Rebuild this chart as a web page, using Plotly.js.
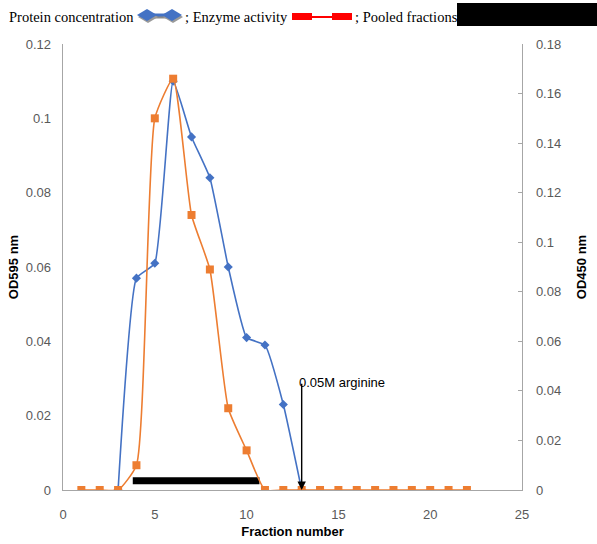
<!DOCTYPE html>
<html>
<head>
<meta charset="utf-8">
<script src="https://cdn.plot.ly/plotly-3.0.1.min.js"></script>
<style>html,body{margin:0;padding:0;background:#fff;}#chart{width:597px;height:544px;}</style>
</head>
<body>
<div id="chart"></div>
<script>
// Data
const proteinFractions = [3, 4, 5, 6, 7, 8, 9, 10, 11, 12, 13];
const proteinOD595 = [0, 0.057, 0.061, 0.110, 0.095, 0.084, 0.060, 0.041, 0.039, 0.023, 0];
const enzymeFractions = [1,2,3,4,5,6,7,8,9,10,11,12,13,14,15,16,17,18,19,20,21,22];
const enzymeOD450 = [0,0,0,0.010,0.150,0.166,0.111,0.089,0.033,0.016,0,0,0,0,0,0,0,0,0,0,0,0];
const pooledFractions = [3.8, 10.7];
const pooledLevel = [0.0025, 0.0025];
const arrowFraction = 13;
const arrowTop = 0.029;
const arrowLabel = "0.05M arginine";
const xTitle = "Fraction number";
const y1Title = "OD595 nm";
const y2Title = "OD450 nm";

const W = 597, H = 544;
const M = {l: 63, r: 75, t: 44, b: 54};
const pw = W - M.l - M.r, ph = H - M.t - M.b;
const px = x => (x - M.l) / pw;
const py = y => (H - M.b - y) / ph;

const blue = '#4472C4', orange = '#ED7D31';

const traces = [
  {x: pooledFractions, y: pooledLevel, mode: 'lines', line: {color: '#000', width: 7}, yaxis: 'y', hoverinfo: 'skip', showlegend: false},
  {x: proteinFractions, y: proteinOD595, mode: 'lines+markers', line: {color: blue, width: 1.6, shape: 'spline', smoothing: 0.4},
   marker: {symbol: 'diamond', size: 7, color: blue}, yaxis: 'y', showlegend: false},
  {x: enzymeFractions, y: enzymeOD450, mode: 'lines+markers', line: {color: orange, width: 1.6, shape: 'spline', smoothing: 0.5},
   marker: {symbol: 'square', size: 8, color: orange}, yaxis: 'y2', showlegend: false}
];

const tickFont = {family: 'Liberation Sans, Arial, sans-serif', size: 13, color: '#595959'};
const titleFont = {family: 'Liberation Sans, Arial, sans-serif', size: 13, color: '#000', weight: 'bold'};
const legFont = {family: 'Liberation Serif, Times New Roman, serif', size: 14.5, color: '#000'};

function diamond(cx, cy, w, h) {
  return `M ${px(cx - w/2)} ${py(cy)} L ${px(cx)} ${py(cy - h/2)} L ${px(cx + w/2)} ${py(cy)} L ${px(cx)} ${py(cy + h/2)} Z`;
}

const shapes = [
  // legend: protein (blue diamond line)
  {type: 'line', xref: 'paper', yref: 'paper', x0: px(148), x1: px(173), y0: py(17), y1: py(17), line: {color: '#8a8a8a', width: 3}},
  {type: 'line', xref: 'paper', yref: 'paper', x0: px(147), x1: px(172), y0: py(15), y1: py(15), line: {color: blue, width: 3}},
  {type: 'path', xref: 'paper', yref: 'paper', path: diamond(148, 17, 20, 12), fillcolor: '#9a9a9a', line: {width: 0}},
  {type: 'path', xref: 'paper', yref: 'paper', path: diamond(147, 15, 20, 12), fillcolor: blue, line: {width: 0}},
  {type: 'path', xref: 'paper', yref: 'paper', path: diamond(173, 17, 20, 12), fillcolor: '#9a9a9a', line: {width: 0}},
  {type: 'path', xref: 'paper', yref: 'paper', path: diamond(172, 15, 20, 12), fillcolor: blue, line: {width: 0}},
  // legend: enzyme (red square line)
  {type: 'line', xref: 'paper', yref: 'paper', x0: px(302), x1: px(342), y0: py(17), y1: py(17), line: {color: '#FF0000', width: 2}},
  {type: 'rect', xref: 'paper', yref: 'paper', x0: px(292), x1: px(312), y0: py(20), y1: py(13), fillcolor: '#FF0000', line: {width: 0}},
  {type: 'rect', xref: 'paper', yref: 'paper', x0: px(332), x1: px(352), y0: py(20), y1: py(13), fillcolor: '#FF0000', line: {width: 0}},
  // legend: pooled (black bar)
  {type: 'rect', xref: 'paper', yref: 'paper', x0: px(457), x1: px(597), y0: py(26), y1: py(3), fillcolor: '#000', line: {width: 0}}
];

const annotations = [
  {xref: 'paper', yref: 'paper', x: px(7), y: py(17), xanchor: 'left', yanchor: 'middle', text: 'Protein concentration', showarrow: false, font: legFont},
  {xref: 'paper', yref: 'paper', x: px(183), y: py(17), xanchor: 'left', yanchor: 'middle', text: '; Enzyme activity', showarrow: false, font: legFont},
  {xref: 'paper', yref: 'paper', x: px(353), y: py(17), xanchor: 'left', yanchor: 'middle', text: '; Pooled fractions', showarrow: false, font: legFont},
  {x: arrowFraction, y: 0, xref: 'x', yref: 'y', ax: arrowFraction, ay: arrowTop, axref: 'x', ayref: 'y', text: '',
   showarrow: true, arrowhead: 2, arrowsize: 1.2, arrowwidth: 1.4, arrowcolor: '#000', standoff: 0},
  {x: arrowFraction, y: arrowTop, xref: 'x', yref: 'y', xanchor: 'left', yanchor: 'middle', xshift: -5, text: arrowLabel, showarrow: false,
   font: {family: 'Liberation Sans, Arial, sans-serif', size: 13, color: '#000'}}
];

const layout = {
  width: W, height: H,
  margin: M,
  paper_bgcolor: '#fff', plot_bgcolor: '#fff',
  showlegend: false,
  xaxis: {range: [0, 25], dtick: 5, tick0: 0, showgrid: false, zeroline: false, showline: true, linecolor: '#A6A6A6', linewidth: 1.3,
          ticks: '', tickfont: tickFont, ticklabelstandoff: 12, title: {text: xTitle, font: titleFont, standoff: 6}},
  yaxis: {range: [0, 0.12], dtick: 0.02, tick0: 0, showgrid: false, zeroline: false, showline: true, linecolor: '#A6A6A6', linewidth: 1.3,
          ticks: '', tickfont: tickFont, ticklabelstandoff: 8, title: {text: y1Title, font: titleFont, standoff: 4}},
  yaxis2: {range: [0, 0.18], dtick: 0.02, tick0: 0, overlaying: 'y', side: 'right', showgrid: false, zeroline: false, showline: true,
           linecolor: '#A6A6A6', linewidth: 1.3, ticks: 'inside', ticklen: 4, tickcolor: '#A6A6A6', tickfont: tickFont,
           ticklabelstandoff: 10, title: {text: y2Title, font: titleFont, standoff: 16}},
  shapes: shapes,
  annotations: annotations
};

Plotly.newPlot('chart', traces, layout, {displayModeBar: false, staticPlot: true});
</script>
</body>
</html>
